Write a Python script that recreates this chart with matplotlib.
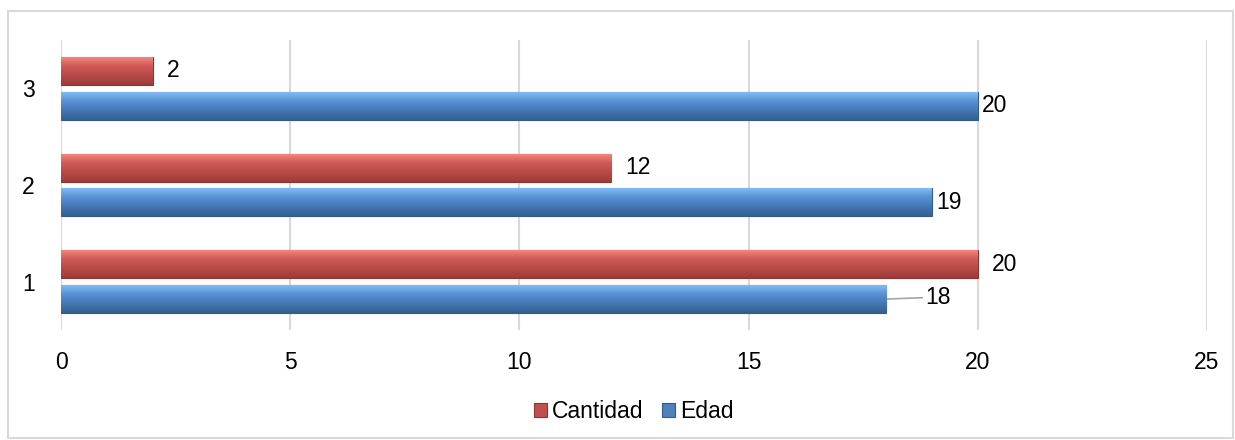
import matplotlib.pyplot as plt
import numpy as np
from matplotlib.patches import Rectangle
from matplotlib.colors import LinearSegmentedColormap

plt.rcParams['font.family'] = ['Liberation Sans', 'DejaVu Sans']

categories = ['1', '2', '3']
cantidad = [20, 12, 2]
edad = [18, 19, 20]

red_cmap = LinearSegmentedColormap.from_list('rojo', ['#F58A87', '#D05A57', '#B84A47', '#9C3B39'])
blue_cmap = LinearSegmentedColormap.from_list('azul', ['#86C0F7', '#5A92D4', '#4577B6', '#35608F'])

fig = plt.figure(figsize=(12.35, 4.4), dpi=100)
ax = fig.add_axes([0.0494, 0.25, 0.9279, 0.659])

# borde exterior del gráfico
fig.patches.append(Rectangle((0.0065, 0.004), 0.992, 0.971, transform=fig.transFigure,
                             fill=False, edgecolor='#D9D9D9', linewidth=1.5))

y = np.arange(len(categories))
h = 0.29
off = 0.18

bars_c = ax.barh(y + off, cantidad, height=h, color='#C0504D', edgecolor='#8B3533',
                 linewidth=0.8, label='Cantidad', zorder=3)
bars_e = ax.barh(y - off, edad, height=h, color='#4F81BD', edgecolor='#2F5C8F',
                 linewidth=0.8, label='Edad', zorder=3)

# degradado tipo bisel dentro de cada barra
grad = np.linspace(0, 1, 64).reshape(-1, 1)
for bars, cmap in [(bars_c, red_cmap), (bars_e, blue_cmap)]:
    for b in bars:
        x0, y0 = b.get_x(), b.get_y()
        im = ax.imshow(grad, cmap=cmap, aspect='auto', zorder=3.5,
                       extent=(x0, x0 + b.get_width(), y0, y0 + b.get_height()),
                       origin='upper')
        im.set_clip_path(b)

for yi, v in zip(y, cantidad):
    ax.text(v + 0.3, yi + off, str(v), va='center', ha='left', fontsize=16.5)
for yi, v in zip(y, edad):
    if v == 18:
        ax.annotate(str(v), xy=(v, yi - off), xytext=(v + 0.85, yi - off + 0.02),
                    va='center', ha='left', fontsize=16.5,
                    arrowprops=dict(arrowstyle='-', color='#A6A6A6', lw=1.2,
                                    shrinkA=0, shrinkB=0))
    else:
        ax.text(v + 0.1, yi - off, str(v), va='center', ha='left', fontsize=16.5)

ax.set_xlim(0, 25)
ax.set_ylim(-0.5, 2.5)
ax.set_xticks(range(0, 26, 5))
ax.set_yticks(y)
ax.set_yticklabels(categories)
ax.tick_params(axis='both', length=0, labelsize=16.5)
ax.tick_params(axis='y', pad=19)
ax.tick_params(axis='x', pad=15)
ax.grid(axis='x', color='#D9D9D9', linewidth=1.5, zorder=0)
for s in ax.spines.values():
    s.set_visible(False)

ax.legend(loc='upper center', bbox_to_anchor=(0.5, -0.17), ncol=2, frameon=False,
          fontsize=16.5, handlelength=0.55, handleheight=0.55, handletextpad=0.25,
          columnspacing=0.8)

plt.savefig('out.png', dpi=100)
plt.close()
